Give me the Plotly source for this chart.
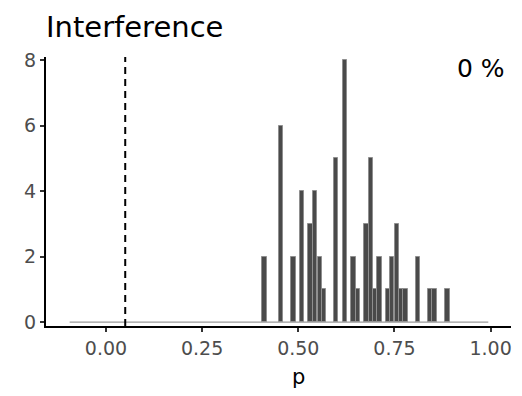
import plotly.graph_objects as go

# Histogram of p-values: bin centres and study counts per bin
p_bins = [0.412, 0.455, 0.488, 0.510, 0.532, 0.544, 0.556, 0.567,
          0.598, 0.622, 0.643, 0.655, 0.677, 0.689, 0.700, 0.711,
          0.734, 0.744, 0.756, 0.768, 0.779, 0.811, 0.842, 0.854, 0.888]
counts = [2, 6, 2, 4, 3, 4, 2, 1,
          5, 8, 2, 1, 3, 5, 1, 2,
          1, 2, 3, 1, 1, 2, 1, 1, 1]
bin_width = 0.0115

# Extent of the binned range (empty bins draw as a flat outline)
hist_range = [-0.0945, 0.994]

# Significance threshold
alpha = 0.05

x_ticks = [0.0, 0.25, 0.5, 0.75, 1.0]
x_tick_labels = ["0.00", "0.25", "0.50", "0.75", "1.00"]
y_ticks = [0, 2, 4, 6, 8]

title_text = "Interference"
share_text = "0 %"

FONT = "DejaVu Sans"

fig = go.Figure()

fig.add_trace(go.Scatter(
    x=hist_range, y=[0, 0], mode="lines",
    line=dict(color="#9a9a9a", width=1.3),
    hoverinfo="skip", showlegend=False,
))

fig.add_trace(go.Bar(
    x=p_bins, y=counts, width=bin_width,
    marker=dict(color="#4a4a4a", line=dict(color="#8f8f8f", width=1)),
    showlegend=False,
))

fig.add_shape(
    type="line", xref="x", yref="paper",
    x0=alpha, x1=alpha, y0=0, y1=1,
    line=dict(color="black", width=2, dash="7px,5px"),
)

fig.add_annotation(
    text=share_text, xref="paper", yref="y",
    x=1, y=7.74, xanchor="right", yanchor="middle", xshift=-4,
    showarrow=False, font=dict(family=FONT, size=25, color="black"),
)

fig.add_annotation(
    text="p", xref="x", yref="paper",
    x=0.5, y=0, yanchor="top", yshift=-37,
    showarrow=False, font=dict(family=FONT, size=21, color="black"),
)

axis_common = dict(
    showgrid=False, zeroline=False,
    showline=True, linecolor="black", linewidth=2,
    ticks="outside", ticklen=4, tickwidth=2, tickcolor="#333333",
    tickfont=dict(family=FONT, size=19, color="#4d4d4d"),
)

fig.update_layout(
    width=522, height=396,
    margin=dict(l=46, r=11, t=57, b=70),
    paper_bgcolor="white", plot_bgcolor="white",
    title=dict(
        text=title_text, x=0, xref="paper", xanchor="left",
        y=1 - 27 / 396, yref="container", yanchor="middle",
        font=dict(family=FONT, size=29, color="black"),
    ),
    xaxis=dict(
        range=[-0.156, 1.053],
        tickvals=x_ticks, ticktext=x_tick_labels,
        **axis_common,
    ),
    yaxis=dict(
        range=[-0.12, 8.1],
        tickvals=y_ticks,
        **axis_common,
    ),
    bargap=0,
)

fig.write_html("out.html")
